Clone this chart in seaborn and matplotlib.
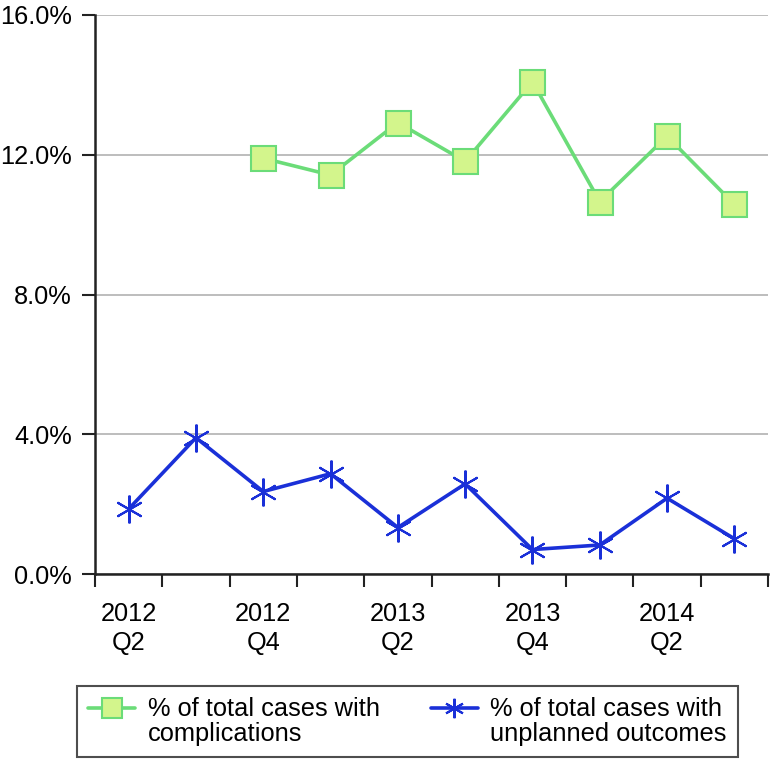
import matplotlib
matplotlib.use("Agg")
import matplotlib.pyplot as plt
import seaborn as sns
import pandas as pd
import numpy as np

quarters = ["2012\nQ2", "2012\nQ3", "2012\nQ4", "2013\nQ1", "2013\nQ2",
            "2013\nQ3", "2013\nQ4", "2014\nQ1", "2014\nQ2", "2014\nQ3"]
complications = [np.nan, np.nan, 11.90, 11.42, 12.92, 11.81, 14.09, 10.66, 12.53, 10.58]
unplanned = [1.86, 3.90, 2.36, 2.87, 1.33, 2.58, 0.70, 0.83, 2.17, 1.01]
label_comp = "% of total cases with\ncomplications"
label_unpl = "% of total cases with\nunplanned outcomes"
y_ticks = [0, 4, 8, 12, 16]

sns.set_style("white")
plt.rcParams['font.family'] = ['Liberation Sans', 'DejaVu Sans']
plt.rcParams['text.color'] = 'black'
plt.rcParams['xtick.labelcolor'] = 'black'
plt.rcParams['ytick.labelcolor'] = 'black'

df = pd.DataFrame({"idx": np.arange(len(quarters)),
                   "comp": complications, "unpl": unplanned})

fig = plt.figure(figsize=(7.73, 7.60), dpi=100)
ax = fig.add_axes([95/773, 1-574/760, (768-95)/773, (574-15)/760])

green_line = "#6bdc78"
green_fill = "#d3f58c"
blue = "#1a30d8"

sns.lineplot(data=df.dropna(subset=["comp"]), x="idx", y="comp", ax=ax,
             color=green_line, lw=2.6, marker="s", markersize=18,
             markerfacecolor=green_fill, markeredgecolor=green_line,
             markeredgewidth=1.5, label=label_comp, zorder=3)
sns.lineplot(data=df, x="idx", y="unpl", ax=ax,
             color=blue, lw=2.6, marker=(6, 2, 0), markersize=20,
             markeredgecolor=blue, markeredgewidth=1.5,
             label=label_unpl, zorder=3)

ax.set_xlim(-0.5, len(quarters) - 0.5)
ax.set_ylim(0, 16)
ax.set_yticks(y_ticks)
ax.set_yticklabels([f"{v:.1f}%" for v in y_ticks])
ax.yaxis.grid(True, color="#b8b8b8", lw=1.3)
ax.set_axisbelow(True)

ax.set_xticks(np.arange(-0.5, len(quarters)), [""] * (len(quarters) + 1))
ax.set_xticks(np.arange(0, len(quarters), 2), quarters[::2], minor=True)
ax.tick_params(axis="x", which="major", length=9, width=1.5, color="#222222", direction="out", bottom=True)
ax.tick_params(axis="x", which="minor", length=0, pad=20, labelsize=18.3)
ax.tick_params(axis="y", length=9.5, width=1.5, color="#222222", direction="out", left=True, labelsize=18.3, pad=7)
for lab in ax.get_xticklabels(minor=True):
    lab.set_linespacing(1.25)

ax.set_xlabel("")
ax.set_ylabel("")
for s in ["top", "right"]:
    ax.spines[s].set_visible(False)
for s in ["left", "bottom"]:
    ax.spines[s].set_color("#222222")
    ax.spines[s].set_linewidth(1.8)

ax.get_legend().remove()
h, l = ax.get_legend_handles_labels()
leg = fig.legend(h, l, loc="center", bbox_to_anchor=(0.527, 0.0507), ncol=2,
                 fontsize=18.3, frameon=True, fancybox=False, edgecolor="#222222",
                 handlelength=1.85, columnspacing=2.0, handletextpad=0.5,
                 borderpad=0.45)
leg.get_frame().set_linewidth(1.5)
for txt in leg.get_texts():
    txt.set_linespacing(1.05)
for hd, ms in zip(leg.legend_handles, [14, 14]):
    hd.set_markersize(ms)
    hd.set_ydata(np.asarray(hd.get_ydata()) + 0.55 * 18)

fig.savefig("out.png", dpi=100)
